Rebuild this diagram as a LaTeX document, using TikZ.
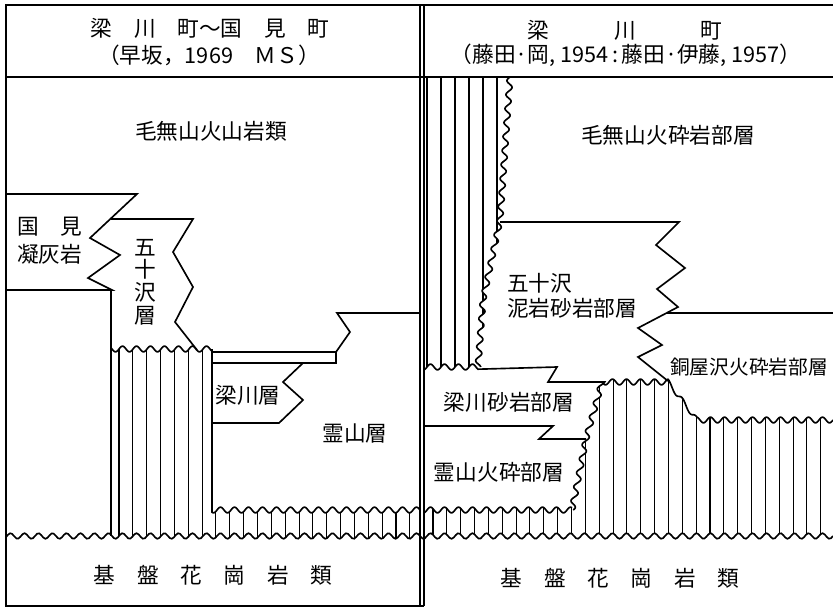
\documentclass[tikz,border=0pt]{standalone}
\usepackage{fontspec}
\setmainfont{Noto Sans CJK JP}
\pgfmathdeclarefunction{wav}{1}{\pgfmathparse{2.8*sin(25.714*mod(#1,14))}}
\newcommand\wh[4]{-- plot[domain=#1:#3,samples=400] (\x,{#2+(#4-#2)*(\x-#1)/(#3-#1)+wav(\x)})}
\newcommand\wv[4]{-- plot[variable=\t,domain=#2:#4,samples=200] ({#1+(#3-#1)*(\t-#2)/(#4-#2)+wav(\t)},\t)}
\begin{document}
\begin{tikzpicture}[x=0.03cm,y=-0.03cm,
    bed/.style={line width=1.4pt},
    stripe/.style={line width=0.9pt},
    every node/.style={inner sep=0pt,font=\fontsize{18.5pt}{22pt}\selectfont}]
\useasboundingbox (0,0) rectangle (833,608);
\draw[bed] (833,5) -- (6,5) -- (6,606) -- (424,606);
\draw[bed] (6,77) -- (833,77);
\draw[bed] (420,5) -- (420,606);
\draw[bed] (424,5) -- (424,606);
\foreach \k in {0,...,21}{
  \pgfmathsetmacro\xa{119+13.85*\k}
  \pgfmathsetmacro\ya{(\k<7 ? 349 : 510)+wav(\xa)}
  \pgfmathsetmacro\yb{536+wav(\xa)}
  \draw[stripe] (\xa,\ya) -- (\xa,\yb);}
\begin{scope}
\clip (424,70) -- (510,70) -- (510,77) \wv{510}{77}{500}{220} \wv{500}{220}{483}{300} \wv{483}{300}{478}{367} -- (478,380) -- (424,380) -- cycle;
\foreach \xa in {427,441,455,469,483,497}{
  \pgfmathsetmacro\yb{(\xa<478 ? 367 : 380)+wav(\xa)}
  \draw[stripe] (\xa,77) -- (\xa,\yb);}
\end{scope}
\begin{scope}
\clip (833,370) -- (602,370) -- (602,382) \wv{602}{382}{586}{439} \wv{586}{439}{572}{510} -- (572,500) -- (424,500) -- (424,560) -- (833,560) -- cycle;
\foreach \k in {0,...,28}{
  \pgfmathsetmacro\xa{433+13.85*\k}
  \pgfmathsetmacro\ya{(\xa<575 ? 510 : (\xa<668 ? 382 : (\xa<697 ? 382+38*(\xa-668)/29 : 420)))+wav(\xa)}
  \pgfmathsetmacro\yb{536+wav(\xa)}
  \draw[stripe] (\xa,\ya) -- (\xa,\yb);}
\end{scope}
\draw[bed] (6,194) -- (137,194) -- (90,238) -- (120,255) -- (88,278) -- (112,290) -- (6,290);
\draw[bed] (111,290) -- (111,536);
\draw[bed] (110.5,219) -- (193,219) -- (173,252) -- (193,287) -- (175,322) -- (197,350);
\draw[bed] (111,349) \wh{111}{349}{212}{349};
\draw[bed] (212,349) -- (212,510);
\draw[bed] (212,352) -- (336,352) -- (350,332) -- (337,313) -- (420,313);
\draw[bed] (212,363) -- (336,363) -- (336,352);
\draw[bed] (303,363) -- (283,382) -- (303,400) -- (279,423) -- (212,423);
\draw[bed] (212,510) \wh{212}{510}{420}{510};
\draw[bed] (6,536) \wh{6}{536}{833}{536};
\draw[bed] (510,77) \wv{510}{77}{500}{220} \wv{500}{220}{483}{300} \wv{483}{300}{478}{367};
\draw[bed] (424,367) \wh{424}{367}{478}{367} -- (557,367) -- (548,382) -- (602,382);
\draw[bed] (500,222) -- (679,222) -- (656,245) -- (685,268) -- (657,289) -- (678,307) -- (638,328) -- (662,345) -- (638,357) -- (668,381);
\draw[bed] (667,313) -- (833,313);
\draw[bed] (424,426) -- (553,426) -- (539,439) -- (586,439);
\draw[bed] (602,382) \wv{602}{382}{586}{439} \wv{586}{439}{572}{510};
\draw[bed] (602,382) \wh{602}{382}{668}{382} \wh{668}{382}{697}{420} \wh{697}{420}{833}{420};
\draw[bed] (424,510) \wh{424}{510}{572}{510};
\node (head1) at (210,28) {梁\hspace{1em}川\hspace{1em}町～国\hspace{1em}見\hspace{1em}町};
\node (ref1) at (209,55) {（早坂，1969　ＭＳ）};
\node (head2) at (625,30) {梁\hspace{3em}川\hspace{3em}町};
\node (ref2) at (626,55) {（藤田·岡, 1954\,:\,藤田·伊藤, 1957）};
\node (kenashi) at (211,131) {毛無山火山岩類};
\node[anchor=west,align=left,font=\fontsize{18.5pt}{24pt}\selectfont] (kunimi) at (17,241) {国\hspace{1em}見\\凝灰岩};
\node[align=center,font=\fontsize{18.5pt}{19.4pt}\selectfont] (isazawa) at (145,282) {五\\十\\沢\\層};
\node (yanagawa) at (248,395) {梁川層};
\node (ryozen) at (355,433) {霊山層};
\node (kiban) at (213,575) {基\hspace{1em}盤\hspace{1em}花\hspace{1em}崗\hspace{1em}岩\hspace{1em}類};
\node (kenashiR) at (668,135) {毛無山火砕岩部層};
\node[anchor=west,align=left,font=\fontsize{18.5pt}{21.3pt}\selectfont] (isazawaR) at (507,296) {五十沢\\泥岩砂岩部層};
\node[font=\fontsize{16.8pt}{20pt}\selectfont] (doyazawa) at (749,367) {銅屋沢火砕岩部層};
\node (yanagawaR) at (509,402) {梁川砂岩部層};
\node (ryozenR) at (499,472) {霊山火砕部層};
\node (kibanR) at (620,578) {基\hspace{1em}盤\hspace{1em}花\hspace{1em}崗\hspace{1em}岩\hspace{1em}類};
\end{tikzpicture}
\end{document}
